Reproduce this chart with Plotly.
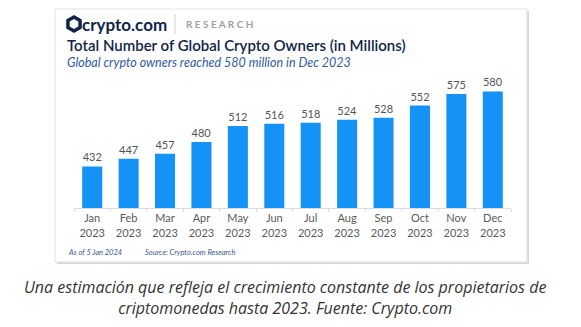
import plotly.graph_objects as go
import math

months = ["Jan", "Feb", "Mar", "Apr", "May", "Jun", "Jul", "Aug", "Sep", "Oct", "Nov", "Dec"]
year = "2023"
owners = [432, 447, 457, 480, 512, 516, 518, 524, 528, 552, 575, 580]
categories = [f"{m}<br>{year}" for m in months]

W, H = 581, 327
L, R, T, B = 74, 70, 80, 119
PW, PH = W - L - R, H - T - B

def px(x):
    return (x - L) / PW

def py(y):
    return (H - B - y) / PH

fig = go.Figure()
fig.add_trace(go.Bar(
    x=categories, y=owners,
    marker=dict(color="#1592f5", line=dict(width=0)),
    text=[str(v) for v in owners], textposition="outside",
    textfont=dict(family="Lato", size=11, color="#555555"),
    cliponaxis=False, hoverinfo="skip",
))

shapes = []
shapes.append(dict(type="rect", xref="paper", yref="paper", layer="below",
                   x0=px(57), x1=px(529), y0=py(264), y1=py(11),
                   line=dict(width=0), fillcolor="#d8d8d8"))
shapes.append(dict(type="rect", xref="paper", yref="paper", layer="below",
                   x0=px(55), x1=px(527), y0=py(262), y1=py(9),
                   line=dict(width=1, color="#e2e2e2"), fillcolor="white"))
shapes.append(dict(type="line", xref="paper", yref="paper",
                   x0=px(175), x1=px(175), y0=py(14), y1=py(34),
                   line=dict(width=1, color="#d0d0d0")))

def hexpath(cx, cy, r):
    pts = []
    for k in range(6):
        a = math.radians(90 + 60 * k)
        pts.append((px(cx + r * math.cos(a)), py(cy - r * math.sin(a))))
    return "M " + " L ".join(f"{a},{b}" for a, b in pts) + " Z"

shapes.append(dict(type="path", xref="paper", yref="paper", path=hexpath(74, 24, 9),
                   fillcolor="#10244a", line=dict(width=0)))
shapes.append(dict(type="path", xref="paper", yref="paper", path=hexpath(74, 24, 5),
                   fillcolor="white", line=dict(width=0)))

annotations = [
    dict(text="<b>crypto.com</b>", x=px(80), y=py(24), xanchor="left", yanchor="middle",
         font=dict(family="Lato", size=17, color="#10244a")),
    dict(text="<b>R E S E A R C H</b>", x=px(184), y=py(24), xanchor="left", yanchor="middle",
         font=dict(family="Lato", size=10, color="#a0a0a0")),
    dict(text="Total Number of Global Crypto Owners (in Millions)", x=px(65), y=py(45),
         xanchor="left", yanchor="middle",
         font=dict(family="Lato", size=15, color="#10244a", weight=600)),
    dict(text="<i>Global crypto owners reached 580 million in Dec 2023</i>", x=px(65), y=py(62),
         xanchor="left", yanchor="middle",
         font=dict(family="Lato", size=12.5, color="#2f5ca3")),
    dict(text="<i>As of 5 Jan 2024</i>", x=px(66), y=py(252), xanchor="left", yanchor="middle",
         font=dict(family="Lato", size=7.5, color="#3a5a90")),
    dict(text="<i>Source: Crypto.com Research</i>", x=px(143), y=py(252), xanchor="left", yanchor="middle",
         font=dict(family="Lato", size=7.5, color="#3a5a90")),
    dict(text="<i>Una estimación que refleja el crecimiento constante de los propietarios de<br>criptomonedas hasta 2023. Fuente: Crypto.com</i>",
         x=px(285), y=py(297), xanchor="center", yanchor="middle", align="center",
         font=dict(family="Open Sans", size=16, color="#333333")),
]
for a in annotations:
    a.update(xref="paper", yref="paper", showarrow=False)

fig.update_layout(
    width=W, height=H,
    margin=dict(l=L, r=R, t=T, b=B),
    paper_bgcolor="white", plot_bgcolor="white",
    bargap=0.45, showlegend=False,
    shapes=shapes, annotations=annotations,
    xaxis=dict(showgrid=False, showline=True, linecolor="#dcdcdc", linewidth=1,
               ticks="outside", tickson="boundaries", ticklen=3, tickcolor="#dcdcdc",
               tickfont=dict(family="Lato", size=11, color="#5a5a5a"), fixedrange=True),
    yaxis=dict(range=[350, 602.5], visible=False, fixedrange=True),
)

fig.write_html("out.html")
